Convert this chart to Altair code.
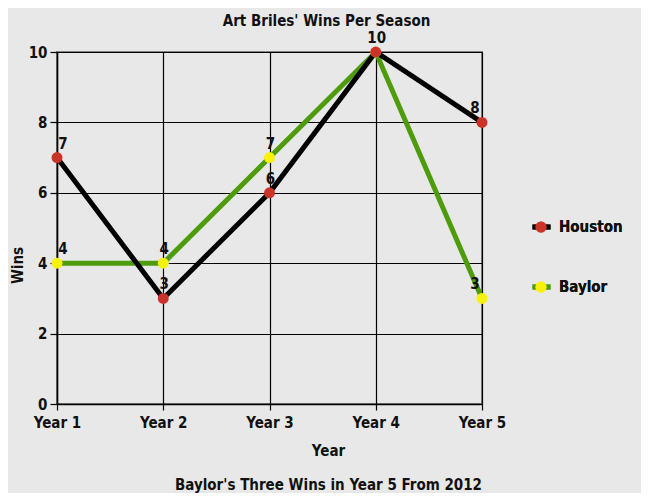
import altair as alt
import pandas as pd

years = ["Year 1", "Year 2", "Year 3", "Year 4", "Year 5"]
houston = [7, 3, 6, 10, 8]
baylor = [4, 4, 7, 10, 3]
teams = ["Houston", "Baylor"]
line_colors = ["#000000", "#4e9c0c"]
point_colors = ["#cc3328", "#f6f20a"]

FONT = "'DejaVu Sans Condensed', 'Liberation Sans Narrow', Roboto, sans-serif"

rows = []
for t, vals in zip(teams, [houston, baylor]):
    for i, (y, v) in enumerate(zip(years, vals)):
        rows.append({"year": y, "team": t, "wins": v, "idx": i})
df = pd.DataFrame(rows)

xenc = alt.X(
    "year:N",
    sort=years,
    scale=alt.Scale(padding=0),
    axis=alt.Axis(
        title=["Year", "Baylor's Three Wins in Year 5 From 2012"],
        titleLineHeight=34,
        titleX=271,
        titleY=51,
        titleBaseline="alphabetic",
        labelAngle=0,
        labelPadding=5,
        tickSize=6,
        grid=True,
        gridColor="#000000",
        gridWidth=1.2,
    ),
)
yenc = alt.Y(
    "wins:Q",
    scale=alt.Scale(domain=[0, 10], nice=False),
    axis=alt.Axis(
        title="Wins",
        values=list(range(0, 11)),
        labelExpr="datum.value % 2 == 0 ? datum.label : ''",
        tickSize=7,
        tickOpacity={"condition": {"test": "datum.value % 2 == 0", "value": 1}, "value": 0},
        gridColor={"condition": {"test": "datum.value % 2 == 0", "value": "#000000"}, "value": "#a8a8a8"},
        gridWidth=1.2,
        titleAngle=270,
        titleX=-40,
        titleY=213,
        titleBaseline="middle",
        labelPadding=3,
    ),
)

stroke_scale = alt.Scale(domain=teams, range=line_colors)
fill_scale = alt.Scale(domain=teams, range=point_colors)

base = alt.Chart(df)

line_legend = alt.Legend(
    title=None,
    orient="none",
    legendX=473,
    legendY=167,
    symbolType="stroke",
    symbolStrokeWidth=5,
    symbolSize=324,
    rowPadding=44,
    clipHeight=16,
    labelOffset=6,
    padding=0,
)
pt_legend = alt.Legend(
    title=None,
    orient="none",
    legendX=476.5,
    legendY=167,
    symbolType="circle",
    symbolSize=121,
    symbolStrokeWidth=0,
    rowPadding=44,
    clipHeight=16,
    labelOffset=9.5,
    labelOpacity=0,
    padding=0,
)

lines = base.mark_line(strokeWidth=5).encode(
    x=xenc,
    y=yenc,
    stroke=alt.Stroke("team:N", scale=stroke_scale, legend=line_legend),
    order=alt.Order("idx:Q"),
)
baylor_line = lines.transform_filter("datum.team == 'Baylor'")
houston_line = lines.transform_filter("datum.team == 'Houston'")

pts = base.mark_point(filled=True, size=120, opacity=1, strokeWidth=0).encode(
    x=alt.X("year:N", sort=years),
    y="wins:Q",
    fill=alt.Fill("team:N", scale=fill_scale, legend=pt_legend),
    shape=alt.value("circle"),
)
baylor_pts = pts.transform_filter("datum.team == 'Baylor'")
houston_pts = pts.transform_filter("datum.team == 'Houston'")

def labels(filt, dx):
    return base.mark_text(
        font=FONT, fontWeight="bold", fontSize=15, baseline="alphabetic", dy=-9, dx=dx, color="#111111"
    ).encode(
        x=alt.X("year:N", sort=years),
        y="wins:Q",
        text="wins:Q",
    ).transform_filter(filt)

# the two "10" labels at Year 4 coincide; draw it once
lab_first = labels("datum.idx == 0", 6)
lab_mid = labels("datum.idx > 0 && datum.idx < 4 && !(datum.idx == 3 && datum.team == 'Baylor')", 1)
lab_last = labels("datum.idx == 4", -7)

chart = alt.layer(
    baylor_line, houston_line, baylor_pts, houston_pts, lab_first, lab_mid, lab_last
).resolve_legend(stroke="independent", fill="independent").properties(
    width=425,
    height=352,
    background="#e8e8e8",
    padding={"left": 49, "top": 44, "right": 159, "bottom": 89},
    autosize=alt.AutoSizeParams(type="none"),
    title=alt.TitleParams(
        "Art Briles' Wins Per Season",
        font=FONT,
        fontSize=15,
        fontWeight="bold",
        color="#111111",
        dx=57,
        offset=2,
        anchor="middle",
        frame="group",
    ),
).configure_view(
    stroke="#808080", strokeWidth=2
).configure_axis(
    labelFont=FONT,
    labelFontSize=15,
    labelFontWeight="bold",
    labelColor="#111111",
    titleFont=FONT,
    titleFontSize=15,
    titleFontWeight="bold",
    titleColor="#111111",
    domainColor="#000000",
    domainWidth=1.5,
    tickColor="#000000",
    tickWidth=1.2,
).configure_legend(
    labelFont=FONT,
    labelFontSize=15,
    labelFontWeight="bold",
    labelColor="#111111",
)

chart.save("out.html", embed_options={"renderer": "svg", "actions": False})
